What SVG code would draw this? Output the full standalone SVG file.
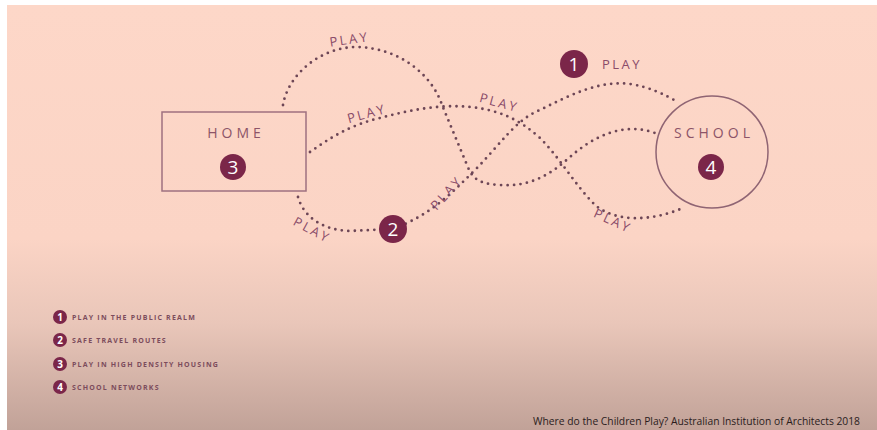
<svg xmlns="http://www.w3.org/2000/svg" width="877" height="430" viewBox="0 0 877 430">
<defs>
<linearGradient id="bg" x1="0" y1="0" x2="0" y2="1">
<stop offset="0" stop-color="#fdd7c8"/>
<stop offset="0.55" stop-color="#fbd4c5"/>
<stop offset="0.75" stop-color="#e9c6b9"/>
<stop offset="1" stop-color="#c1a298"/>
</linearGradient>
</defs>
<style>
.dot{fill:none;stroke:#6d4656;stroke-width:2.8;stroke-linecap:round;stroke-dasharray:0 6.5}
.lbl{font-family:"Open Sans","Noto Sans",sans-serif;font-size:13px;fill:#8a4b69;letter-spacing:2.5px;text-anchor:middle}
.badge{fill:#7b2649}
.num{font-family:"Open Sans","Noto Sans",sans-serif;font-size:19px;fill:#ffffff;text-anchor:middle}
.title{font-family:"Open Sans","Noto Sans",sans-serif;font-size:14px;fill:#8c5468;letter-spacing:4px;text-anchor:middle}
.leg{font-family:"Open Sans","Noto Sans",sans-serif;font-size:7px;font-weight:bold;fill:#7c4c5c;letter-spacing:1.2px}
.lnum{font-family:"Open Sans","Noto Sans",sans-serif;font-size:10px;font-weight:bold;fill:#ffffff;text-anchor:middle}
</style>
<rect x="0" y="0" width="877" height="430" fill="#ffffff"/>
<rect x="7" y="5" width="870" height="425" fill="url(#bg)"/>

<g id="connectors">
<path class="dot" d="M283,105 C288,75 320,47 357,47 C400,48 432,75 442,105 L467,165 C472,178 478,184 500,185 C530,187 550,175 570,157 C595,135 625,122 655,133"/>
<path class="dot" d="M310,152 C330,138 350,125 380,118 C410,110 440,104 470,107 C500,110 520,120 540,138 C560,158 575,185 595,205 C615,222 650,222 683,208"/>
<path class="dot" d="M298,197 C303,215 320,230 350,231 L393,229 C430,215 450,195 475,170 C500,145 515,120 540,110 C570,95 600,80 630,84 C650,87 665,95 676,101"/>
</g>

<g id="labels">
<text class="lbl" transform="translate(350,44) rotate(-8)">PLAY</text>
<text class="lbl" transform="translate(368,118) rotate(-15)">PLAY</text>
<text class="lbl" transform="translate(498,107) rotate(15)">PLAY</text>
<text class="lbl" transform="translate(450,196) rotate(-48)">PLAY</text>
<text class="lbl" transform="translate(310,234) rotate(28)">PLAY</text>
<text class="lbl" transform="translate(611,225) rotate(25)">PLAY</text>
</g>

<g id="home">
<rect x="162" y="112" width="144" height="79" fill="none" stroke="#9e7080" stroke-width="1.5"/>
<text class="title" x="236" y="138">HOME</text>
<circle class="badge" cx="233" cy="167" r="13"/>
<text class="num" x="233" y="174">3</text>
</g>

<g id="school">
<circle cx="712" cy="152" r="56" fill="none" stroke="#8f6473" stroke-width="1.5"/>
<text class="title" x="714" y="138">SCHOOL</text>
<circle class="badge" cx="711" cy="167" r="13"/>
<text class="num" x="711" y="174">4</text>
</g>

<g id="node2">
<circle class="badge" cx="393" cy="229" r="14"/>
<text class="num" x="393" y="236">2</text>
</g>

<g id="node1">
<circle class="badge" cx="574" cy="64" r="14"/>
<text class="num" x="574" y="71">1</text>
<text class="lbl" x="622" y="69">PLAY</text>
</g>

<g id="legend">
<circle class="badge" cx="60" cy="317" r="7"/><text class="lnum" x="60" y="320.5">1</text>
<text class="leg" x="72" y="319.5">PLAY IN THE PUBLIC REALM</text>
<circle class="badge" cx="60" cy="340" r="7"/><text class="lnum" x="60" y="343.5">2</text>
<text class="leg" x="72" y="342.5">SAFE TRAVEL ROUTES</text>
<circle class="badge" cx="60" cy="364" r="7"/><text class="lnum" x="60" y="367.5">3</text>
<text class="leg" x="72" y="366.5">PLAY IN HIGH DENSITY HOUSING</text>
<circle class="badge" cx="60" cy="387" r="7"/><text class="lnum" x="60" y="390.5">4</text>
<text class="leg" x="72" y="389.5">SCHOOL NETWORKS</text>
</g>

<text x="533" y="425" font-family="'Open Sans','Noto Sans',sans-serif" font-size="10" fill="#2a1c1c" textLength="327" lengthAdjust="spacingAndGlyphs">Where do the Children Play? Australian Institution of Architects 2018</text>
</svg>
